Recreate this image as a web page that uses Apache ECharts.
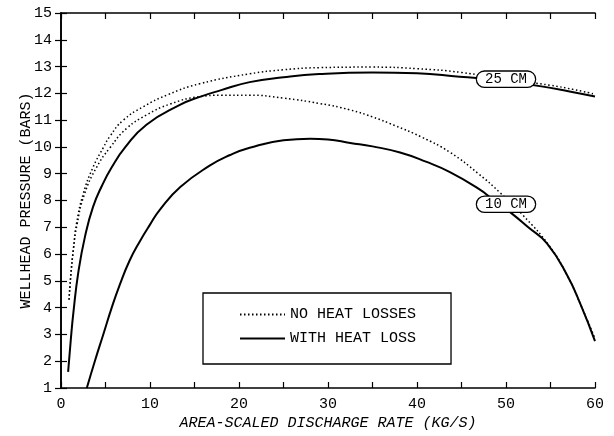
<!DOCTYPE html>
<html>
<head>
<meta charset="utf-8">
<script src="https://cdn.jsdelivr.net/npm/echarts@6/dist/echarts.min.js"></script>
<style>html,body{margin:0;padding:0;background:#fff}#c{width:614px;height:436px}</style>
</head>
<body>
<div id="c"></div>
<script>
// 25 cm, no heat losses (dotted)
const noLoss25X = [0.9, 1.1, 1.4, 1.75, 2.5, 3.6, 4.75, 5.5, 7, 9.25, 12, 15.6, 21.2, 25, 29, 35, 40, 45, 50, 55, 57.5, 60];
const noLoss25Y = [4.3, 5.2, 6.2, 7.15, 8.25, 9.24, 9.97, 10.4, 11.0, 11.5, 11.95, 12.36, 12.73, 12.88, 12.96, 12.98, 12.92, 12.78, 12.52, 12.3, 12.15, 11.97];
// 10 cm, no heat losses (dotted)
const noLoss10X = [0.9, 1.1, 1.4, 1.8, 2.6, 4.0, 5.5, 7.4, 9.6, 12.25, 15.6, 18, 21.2, 25, 29.1, 32.5, 35, 37.5, 40.5, 43.7, 46.9, 49.3, 51.9, 54.9, 56.9, 58.4, 60];
const noLoss10Y = [4.3, 5.2, 6.2, 7.1, 8.2, 9.24, 9.97, 10.7, 11.19, 11.6, 11.88, 11.93, 11.93, 11.82, 11.62, 11.38, 11.12, 10.8, 10.37, 9.8, 9.0, 8.3, 7.45, 6.29, 5.19, 4.1, 2.85];
// 25 cm, with heat loss (solid)
const loss25X = [0.8, 1.1, 1.4, 1.94, 2.7, 3.6, 4.6, 5.7, 7.2, 9.6, 13.3, 15.6, 18, 21.2, 25, 29, 35, 40, 44.8, 47, 50, 53.8, 57, 60];
const loss25Y = [1.6, 2.8, 3.84, 5.31, 6.66, 7.76, 8.55, 9.24, 9.98, 10.83, 11.56, 11.87, 12.12, 12.42, 12.6, 12.72, 12.78, 12.75, 12.62, 12.56, 12.45, 12.27, 12.08, 11.88];
// 10 cm, with heat loss (solid)
const loss10X = [2.9, 3.8, 4.75, 5.7, 6.6, 7.7, 8.9, 10, 11.1, 13.4, 16.7, 19, 21.2, 25, 28, 30, 32.5, 35, 38.1, 41, 43.7, 46.9, 48.5, 50.7, 52.5, 54.6, 56.9, 58.4, 60];
const loss10Y = [1.0, 2.0, 3.0, 4.0, 4.85, 5.75, 6.5, 7.1, 7.65, 8.5, 9.3, 9.7, 9.97, 10.25, 10.31, 10.28, 10.15, 10.02, 9.79, 9.45, 9.06, 8.44, 8.05, 7.5, 7.0, 6.4, 5.19, 4.1, 2.75];

const seriesNames = ['NO HEAT LOSSES', 'WITH HEAT LOSS'];
const curveLabels = ['25 CM', '10 CM'];
const xTitle = 'AREA-SCALED DISCHARGE RATE (KG/S)';
const yTitle = 'WELLHEAD PRESSURE (BARS)';

const zip = (xs, ys) => xs.map((x, i) => [x, ys[i]]);
const FONT = 'Liberation Mono';

const labelStyle = {
  show: true, position: 'inside', fontFamily: FONT, fontSize: 14, color: '#000',
  backgroundColor: '#fff', borderColor: '#000', borderWidth: 1.3, borderRadius: 9,
  padding: [1, 8, 0, 8]
};
const dotted = {color: '#000', width: 1.5, type: [1.5, 2.5]};
const solid = {color: '#000', width: 2};

const chart = echarts.init(document.getElementById('c'), null, {renderer: 'canvas'});
const axisLineStyle = {color: '#000', width: 1.6};
const tick = {show: true, inside: true, length: 6, lineStyle: {color: '#000', width: 1.2}};
chart.setOption({
  animation: false,
  backgroundColor: '#fff',
  grid: {left: 61, right: 19, top: 13, bottom: 42},
  legend: {
    orient: 'vertical', left: 203, top: 293,
    data: seriesNames,
    itemWidth: 45, itemHeight: 10, itemGap: 9,
    padding: [14, 35, 18, 36],
    borderColor: '#000', borderWidth: 1.3, backgroundColor: '#fff',
    itemStyle: {opacity: 0},
    textStyle: {fontFamily: FONT, fontSize: 15, color: '#000'}
  },
  xAxis: [{
    type: 'value', min: 0, max: 60, interval: 5,
    name: xTitle, nameLocation: 'middle', nameGap: 28, nameMoveOverlap: false,
    nameTextStyle: {fontFamily: FONT, fontSize: 15, fontStyle: 'italic', color: '#000'},
    axisLine: {show: true, lineStyle: axisLineStyle},
    axisTick: tick,
    axisLabel: {fontFamily: FONT, fontSize: 15, color: '#000', margin: 9,
      formatter: v => (v % 10 === 0 ? String(v) : '')},
    splitLine: {show: false}
  }, {
    type: 'value', min: 0, max: 60, interval: 5, position: 'top',
    axisLine: {show: true, lineStyle: axisLineStyle},
    axisTick: tick,
    axisLabel: {show: false}, splitLine: {show: false}
  }],
  yAxis: [{
    type: 'value', min: 1, max: 15, interval: 1,
    name: yTitle, nameLocation: 'middle', nameGap: 27, nameRotate: 90, nameMoveOverlap: false,
    nameTextStyle: {fontFamily: FONT, fontSize: 15, color: '#000'},
    axisLine: {show: true, lineStyle: axisLineStyle},
    axisTick: tick,
    axisLabel: {fontFamily: FONT, fontSize: 15, color: '#000', margin: 9},
    splitLine: {show: false}
  }, {
    type: 'value', min: 1, max: 15, interval: 1, position: 'right',
    axisLine: {show: true, lineStyle: axisLineStyle},
    axisTick: tick,
    axisLabel: {show: false}, splitLine: {show: false}
  }],
  series: [
    {name: seriesNames[0], type: 'line', data: zip(noLoss25X, noLoss25Y), smooth: 0.5,
      symbol: 'none', lineStyle: dotted, itemStyle: {color: '#000'}},
    {name: seriesNames[0], type: 'line', data: zip(noLoss10X, noLoss10Y), smooth: 0.5,
      symbol: 'none', lineStyle: dotted, itemStyle: {color: '#000'}},
    {name: seriesNames[1], type: 'line', data: zip(loss25X, loss25Y), smooth: 0.5,
      symbol: 'none', lineStyle: solid, itemStyle: {color: '#000'},
      markPoint: {symbol: 'rect', symbolSize: 0, silent: true,
        label: Object.assign({formatter: curveLabels[0]}, labelStyle),
        data: [{coord: [50, 12.53]}]}},
    {name: seriesNames[1], type: 'line', data: zip(loss10X, loss10Y), smooth: 0.5,
      symbol: 'none', lineStyle: solid, itemStyle: {color: '#000'},
      markPoint: {symbol: 'rect', symbolSize: 0, silent: true,
        label: Object.assign({formatter: curveLabels[1]}, labelStyle),
        data: [{coord: [50, 7.86]}]}}
  ]
});
</script>
</body>
</html>
